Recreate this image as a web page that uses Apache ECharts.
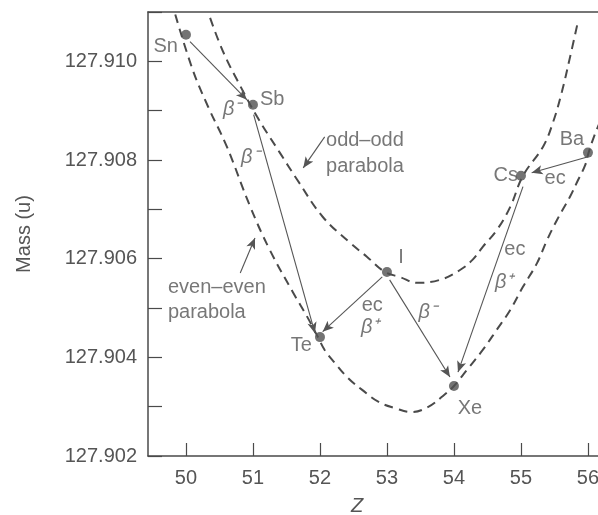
<!DOCTYPE html>
<html>
<head>
<meta charset="utf-8">
<script src="https://cdn.jsdelivr.net/npm/echarts@6/dist/echarts.min.js"></script>
<style>
  html, body { margin: 0; padding: 0; background: #fff; }
  #chart { width: 598px; height: 515px; }
</style>
</head>
<body>
<div id="chart"></div>
<script>
// A = 128 isobars
const elements = ["Sn", "Sb", "Te", "I", "Xe", "Cs", "Ba"];
const elemZ = [50, 51, 52, 53, 54, 55, 56];
const elemMass = [127.91054, 127.90912, 127.90441, 127.90573, 127.90342, 127.90768, 127.90815];

// dashed parabolas
const evenEvenCurve = [
  [49.84, 127.91095], [50.10, 127.90983], [50.33, 127.90908], [50.61, 127.90827],
  [50.96, 127.90705], [51.25, 127.90618], [51.60, 127.90531], [51.81, 127.90482],
  [51.97, 127.90441], [52.07, 127.90415], [52.22, 127.90389], [52.42, 127.90358],
  [52.63, 127.90334], [52.87, 127.90310], [53.12, 127.90297], [53.37, 127.90289],
  [53.61, 127.90299], [53.82, 127.90320], [54.00, 127.90342], [54.19, 127.90374],
  [54.43, 127.90415], [54.64, 127.90456], [54.84, 127.90496], [55.03, 127.90543],
  [55.24, 127.90591], [55.39, 127.90638], [55.54, 127.90679], [55.73, 127.90725],
  [55.84, 127.90756], [55.96, 127.90790], [56.01, 127.90815], [56.10, 127.90851],
  [56.18, 127.90877]
];
const oddOddCurve = [
  [50.36, 127.91088], [50.48, 127.91044], [50.61, 127.91003], [50.76, 127.90963],
  [51.06, 127.90888], [51.40, 127.90815], [51.66, 127.90760], [52.04, 127.90685],
  [52.45, 127.90632], [52.70, 127.90604], [52.97, 127.90573], [53.19, 127.90563],
  [53.45, 127.90551], [53.79, 127.90557], [54.09, 127.90577], [54.28, 127.90598],
  [54.43, 127.90624], [54.64, 127.90658], [54.84, 127.90705], [55.03, 127.90768],
  [55.33, 127.90827], [55.48, 127.90877], [55.61, 127.90938], [55.73, 127.91007],
  [55.84, 127.91074]
];

// decay arrows [from, to]
const arrows = [
  [[50.06, 127.91040], [50.91, 127.90922]],
  [[51.01, 127.90892], [51.925, 127.90449]],
  [[52.93, 127.90563], [52.04, 127.90452]],
  [[53.04, 127.90557], [53.94, 127.90360]],
  [[55.03, 127.90746], [54.06, 127.90370]],
  [[55.99, 127.90806], [55.16, 127.90774]],
  [[52.07, 127.90847], [51.75, 127.90784]],
  [[50.81, 127.90571], [51.03, 127.90642]]
];

// decay mode labels [text, Z, mass]
const decayLabels = [
  ["β⁻", 50.69, 127.90902],
  ["β⁻", 50.96, 127.90806],
  ["ec", 52.78, 127.90506],
  ["β⁺", 52.75, 127.90460],
  ["β⁻", 53.61, 127.90492],
  ["ec", 54.91, 127.90618],
  ["β⁺", 54.75, 127.90551],
  ["ec", 55.51, 127.90762]
];
// curve captions [text, Z, mass] (left aligned)
const curveLabels = [
  ["odd–odd", 52.09, 127.90839],
  ["parabola", 52.09, 127.90786],
  ["even–even", 49.73, 127.90541],
  ["parabola", 49.73, 127.90490]
];

const zTicks = [50, 51, 52, 53, 54, 55, 56];
const massTicks = [127.902, 127.903, 127.904, 127.905, 127.906, 127.907, 127.908, 127.909, 127.910, 127.911];
const massLabels = [127.902, 127.904, 127.906, 127.908, 127.910];

const FONT = "'Liberation Sans', Arial, sans-serif";
const INK = "#555";
const LINE = "#4a4a4a";

// where each element's name sits relative to its dot
const elemLabelPos = {
  Sn: { position: "left", distance: 4, offset: [1, 12] },
  Sb: { position: "right", distance: 2, offset: [0, -5] },
  Te: { position: "left", distance: 3, offset: [0, 8] },
  I:  { position: "top", distance: 5, offset: [14, 5] },
  Xe: { position: "bottom", distance: 4, offset: [16, 4] },
  Cs: { position: "left", distance: 0, offset: [2, 0] },
  Ba: { position: "top", distance: 5, offset: [-16, 7] }
};

const chart = echarts.init(document.getElementById("chart"), null, { renderer: "canvas" });

const textStyle = { color: INK, fontSize: 20, fontFamily: FONT };

const option = {
  backgroundColor: "#fff",
  animation: false,
  grid: { left: 148, right: 0, top: 12, bottom: 59, outerBoundsMode: "none", containLabel: false },
  xAxis: [
    {
      type: "value",
      min: 49.433, max: 56.15,
      name: "Z",
      nameLocation: "middle",
      nameGap: 40,
      nameTextStyle: { ...textStyle, fontStyle: "italic", padding: [0, 32, 0, 0] },
      axisLine: { show: true, lineStyle: { color: LINE, width: 1.5 } },
      axisTick: { show: true, inside: true, length: 13, customValues: zTicks, lineStyle: { color: LINE, width: 1.2 } },
      axisLabel: { ...textStyle, margin: 12, customValues: zTicks, formatter: v => String(v) },
      splitLine: { show: false }
    },
    {
      type: "value",
      position: "top",
      min: 49.433, max: 56.15,
      axisLine: { show: true, lineStyle: { color: LINE, width: 1.5 } },
      axisTick: { show: false },
      axisLabel: { show: false },
      splitLine: { show: false }
    }
  ],
  yAxis: {
    type: "value",
    min: 127.902, max: 127.911,
    name: "Mass (u)",
    nameLocation: "middle",
    nameGap: 114,
    nameTextStyle: { ...textStyle },
    axisLine: { show: true, lineStyle: { color: LINE, width: 1.5 } },
    axisTick: { show: true, inside: true, length: 14, customValues: massTicks, lineStyle: { color: LINE, width: 1.2 } },
    axisLabel: { ...textStyle, margin: 11, customValues: massLabels, formatter: v => v.toFixed(3) },
    splitLine: { show: false }
  },
  series: [
    {
      name: "even-even",
      type: "line",
      data: evenEvenCurve,
      smooth: 0.4,
      showSymbol: false,
      lineStyle: { color: LINE, width: 2, type: [9, 6] },
      z: 2
    },
    {
      name: "odd-odd",
      type: "line",
      data: oddOddCurve,
      smooth: 0.4,
      showSymbol: false,
      lineStyle: { color: LINE, width: 2, type: [9, 6] },
      z: 2
    },
    {
      name: "decays",
      type: "lines",
      coordinateSystem: "cartesian2d",
      symbol: ["none", "arrow"],
      symbolSize: [0, [7, 11]],
      lineStyle: { color: INK, width: 1.1, opacity: 1 },
      data: arrows.map(a => ({ coords: a })),
      z: 3
    },
    {
      name: "isobars",
      type: "scatter",
      symbolSize: 10,
      itemStyle: { color: "#505050" },
      data: elements.map((n, i) => ({
        name: n,
        value: [elemZ[i], elemMass[i]],
        label: { show: true, formatter: n, ...textStyle, ...elemLabelPos[n] }
      })),
      z: 5
    },
    {
      name: "decay labels",
      type: "scatter",
      symbolSize: 0,
      data: decayLabels.map(d => ({
        value: [d[1], d[2]],
        label: {
          show: true, position: "inside", formatter: d[0], ...textStyle,
          fontStyle: d[0] === "ec" ? "normal" : "italic"
        }
      })),
      silent: true,
      z: 4
    },
    {
      name: "captions",
      type: "scatter",
      symbolSize: 0,
      data: curveLabels.map(d => ({
        value: [d[1], d[2]],
        label: { show: true, position: "right", distance: 0, formatter: d[0], ...textStyle }
      })),
      silent: true,
      z: 4
    }
  ]
};

chart.setOption(option);
</script>
</body>
</html>
